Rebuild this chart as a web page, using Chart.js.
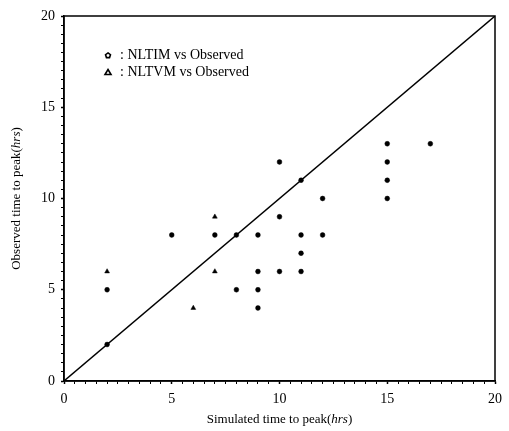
<!DOCTYPE html>
<html>
<head>
<meta charset="utf-8">
<script src="https://cdn.jsdelivr.net/npm/chart.js@4"></script>
<style>
  html, body { margin: 0; padding: 0; background: #fff; }
  #wrap { width: 509px; height: 431px; }
</style>
</head>
<body>
<div id="wrap"><canvas id="peakChart" width="509" height="431"></canvas></div>
<script>
// simulated vs observed time to peak (hrs)
const nltimSim = [2, 2, 5, 7, 8, 8, 9, 9, 9, 9, 10, 10, 10, 11, 11, 11, 11, 12, 12, 15, 15, 15, 15, 17];
const nltimObs = [2, 5, 8, 8, 5, 8, 4, 5, 6, 8, 6, 9, 12, 6, 7, 8, 11, 8, 10, 10, 11, 12, 13, 13];
const nltvmSim = [2, 6, 7, 7];
const nltvmObs = [6, 4, 6, 9];
const lineEnds = [0, 20];
const majorTicks = [0, 5, 10, 15, 20];

const serif = "'Liberation Serif', 'DejaVu Serif', serif";

function toPoints(xs, ys) {
    return xs.map((x, i) => ({ x: x, y: ys[i] }));
}

// frame, axis titles and the little legend
const extras = {
    id: 'extras',
    afterDraw(chart) {
        const ctx = chart.ctx;
        const a = chart.chartArea;
        ctx.save();
        ctx.strokeStyle = '#000';
        ctx.lineWidth = 1.5;
        ctx.strokeRect(a.left, a.top, a.right - a.left, a.bottom - a.top);

        ctx.fillStyle = '#000';
        ctx.textBaseline = 'middle';

        // x title
        const xa = ": ";
        ctx.font = "13px " + serif;
        let p1 = 'Simulated time to peak(';
        let p3 = ')';
        ctx.font = "italic 13px " + serif;
        let w2 = ctx.measureText('hrs').width;
        ctx.font = "13px " + serif;
        let w1 = ctx.measureText(p1).width;
        let w3 = ctx.measureText(p3).width;
        let cx = (a.left + a.right) / 2;
        let sx = cx - (w1 + w2 + w3) / 2;
        ctx.textAlign = 'left';
        ctx.fillText(p1, sx, 420);
        ctx.font = "italic 13px " + serif;
        ctx.fillText('hrs', sx + w1, 420);
        ctx.font = "13px " + serif;
        ctx.fillText(p3, sx + w1 + w2, 420);

        // y title (rotated)
        ctx.save();
        ctx.translate(17, (a.top + a.bottom) / 2);
        ctx.rotate(-Math.PI / 2);
        p1 = 'Observed time to peak(';
        w1 = ctx.measureText(p1).width;
        sx = -(w1 + w2 + w3) / 2;
        ctx.fillText(p1, sx, 0);
        ctx.font = "italic 13px " + serif;
        ctx.fillText('hrs', sx + w1, 0);
        ctx.font = "13px " + serif;
        ctx.fillText(p3, sx + w1 + w2, 0);
        ctx.restore();

        // legend
        const sets = chart.data.datasets.filter(d => d.legendShape);
        sets.forEach((d, i) => {
            const y = 55 + i * 17;
            const mx = 108;
            ctx.lineWidth = 1.6;
            ctx.beginPath();
            if (d.legendShape === 'pentagon') {
                for (let k = 0; k < 5; k++) {
                    const ang = -Math.PI / 2 + k * 2 * Math.PI / 5;
                    const px = mx + 2.6 * Math.cos(ang);
                    const py = y + 0.5 + 2.6 * Math.sin(ang);
                    if (k === 0) ctx.moveTo(px, py); else ctx.lineTo(px, py);
                }
            } else {
                ctx.moveTo(mx, y - 2.5);
                ctx.lineTo(mx + 3, y + 2.5);
                ctx.lineTo(mx - 3, y + 2.5);
            }
            ctx.closePath();
            ctx.stroke();
            ctx.font = "14px " + serif;
            ctx.fillText(xa + d.label, 120, y);
        });
        ctx.restore();
    }
};

const ctx = document.getElementById('peakChart').getContext('2d');
new Chart(ctx, {
    type: 'scatter',
    data: {
        datasets: [{
            label: 'NLTIM vs Observed',
            legendShape: 'pentagon',
            data: toPoints(nltimSim, nltimObs),
            pointStyle: 'circle',
            pointRadius: 2.4,
            backgroundColor: '#000',
            borderColor: '#000',
            borderWidth: 0.5
        }, {
            label: 'NLTVM vs Observed',
            legendShape: 'triangle',
            data: toPoints(nltvmSim, nltvmObs),
            pointStyle: 'triangle',
            pointRadius: 2.8,
            backgroundColor: '#000',
            borderColor: '#000',
            borderWidth: 0.5
        }, {
            label: '1:1',
            type: 'line',
            data: toPoints(lineEnds, lineEnds),
            borderColor: '#000',
            borderWidth: 1.4,
            pointRadius: 0,
            fill: false
        }]
    },
    options: {
        responsive: false,
        animation: false,
        layout: { padding: { top: 16, right: 10, left: 0, bottom: 0 } },
        plugins: {
            legend: { display: false },
            tooltip: { enabled: false }
        },
        scales: {
            x: {
                type: 'linear',
                min: 0,
                max: 20,
                afterFit: s => { s.height = 50; },
                border: { display: true, color: '#000', width: 1.5 },
                grid: {
                    drawOnChartArea: false,
                    drawTicks: true,
                    tickLength: 3,
                    tickColor: '#000',
                    tickWidth: c => majorTicks.includes(c.tick.value) ? 1.5 : 1
                },
                ticks: {
                    stepSize: 0.5,
                    autoSkip: false,
                    maxRotation: 0,
                    padding: 7,
                    color: '#000',
                    font: { family: serif, size: 14 },
                    callback: v => majorTicks.includes(v) ? String(v) : ''
                }
            },
            y: {
                type: 'linear',
                min: 0,
                max: 20,
                afterFit: s => { s.width = 64; },
                border: { display: true, color: '#000', width: 1.5 },
                grid: {
                    drawOnChartArea: false,
                    drawTicks: true,
                    tickLength: 3,
                    tickColor: '#000',
                    tickWidth: c => majorTicks.includes(c.tick.value) ? 1.5 : 1
                },
                ticks: {
                    stepSize: 0.5,
                    autoSkip: false,
                    padding: 6,
                    color: '#000',
                    font: { family: serif, size: 14 },
                    callback: v => majorTicks.includes(v) ? String(v) : ''
                }
            }
        }
    },
    plugins: [extras]
});
</script>
</body>
</html>
